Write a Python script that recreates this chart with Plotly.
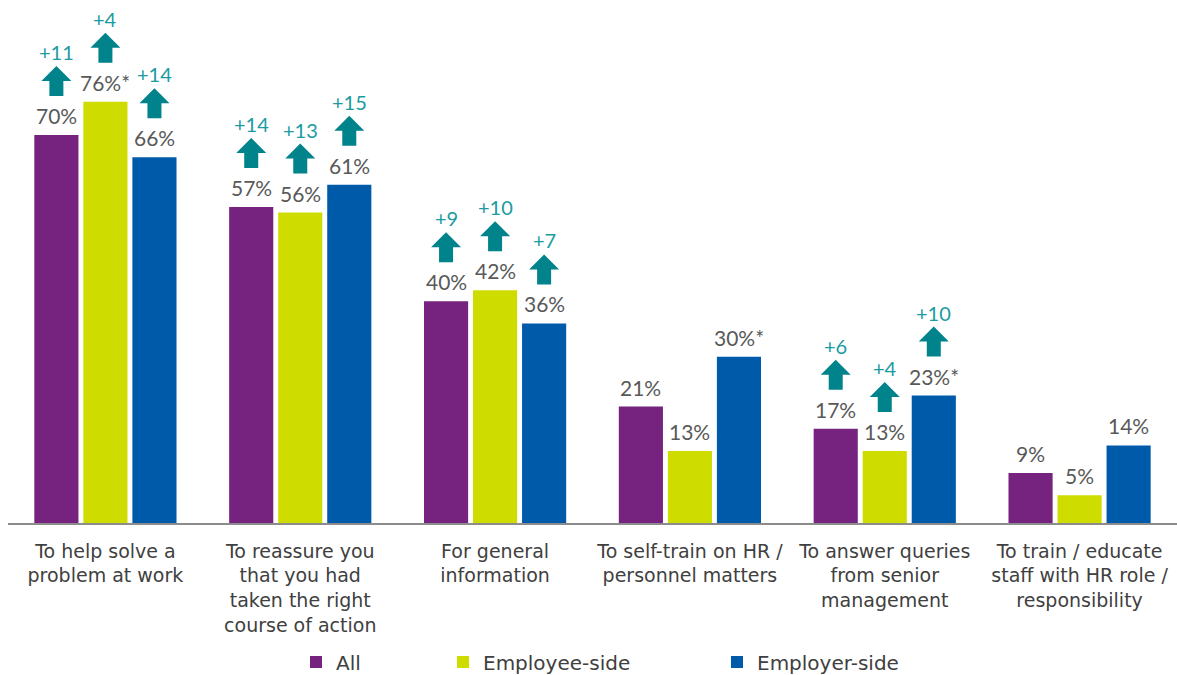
import plotly.graph_objects as go

# Survey results: reasons for using the service, by respondent type (%)
categories = [
    "To help solve a<br>problem at work",
    "To reassure you<br>that you had<br>taken the right<br>course of action",
    "For general<br>information",
    "To self-train on HR /<br>personnel matters",
    "To answer queries<br>from senior<br>management",
    "To train / educate<br>staff with HR role /<br>responsibility",
]
series_names = ["All", "Employee-side", "Employer-side"]
all_vals = [70, 57, 40, 21, 17, 9]
employee_vals = [76, 56, 42, 13, 13, 5]
employer_vals = [66, 61, 36, 30, 23, 14]

# Change in percentage points since the previous wave (None = no significant rise)
all_change = [11, 14, 9, None, 6, None]
employee_change = [4, 13, 10, None, 4, None]
employer_change = [14, 15, 7, None, 10, None]

# Significant difference from other groups
all_sig = [False, False, False, False, False, False]
employee_sig = [True, False, False, False, False, False]
employer_sig = [False, False, False, True, True, False]

colors = ["#76237F", "#CFDC00", "#005AAA"]
ARROW = "#00838B"
CHANGE_TEXT = "#1A9BA1"
LABEL = "#595959"
TEXT_FONT = "DejaVu Sans, sans-serif"
NUM_FONT = "Lato, sans-serif"

values = [all_vals, employee_vals, employer_vals]
changes = [all_change, employee_change, employer_change]
sigs = [all_sig, employee_sig, employer_sig]

BARGAP = 0.245
GROUPGAP = 0.1
slot = (1 - BARGAP) / 3
xs = list(range(len(categories)))

fig = go.Figure()
for k, name in enumerate(series_names):
    fig.add_trace(go.Bar(
        x=xs, y=values[k], name=name,
        marker=dict(color=colors[k], line=dict(width=0)),
        legend="legend" if k == 0 else f"legend{k + 1}",
    ))

annotations = []
shapes = []
# arrow outline in pixels relative to its anchor (positive = upward)
arrow_path = "M -7,39 L 7,39 L 7,54 L 15,54 L 0,69 L -15,54 L -7,54 Z"
for k in range(3):
    for i in xs:
        xc = i + (k - 1) * slot
        v = values[k][i]
        annotations.append(dict(
            x=xc, y=v, xref="x", yref="y",
            text=f"{v}%" + ("*" if sigs[k][i] else ""),
            showarrow=False, yanchor="bottom", yshift=5,
            font=dict(family=NUM_FONT, size=21, color=LABEL),
        ))
        c = changes[k][i]
        if c is not None:
            shapes.append(dict(
                type="path", xref="x", yref="y",
                xsizemode="pixel", ysizemode="pixel",
                xanchor=xc, yanchor=v, path=arrow_path,
                fillcolor=ARROW, line=dict(width=0),
            ))
            annotations.append(dict(
                x=xc, y=v, xref="x", yref="y",
                text=f"+{c}", showarrow=False, yanchor="bottom", yshift=69,
                font=dict(family=NUM_FONT, size=20, color=CHANGE_TEXT),
            ))

legend_common = dict(
    orientation="h", yanchor="middle", y=-0.266, xanchor="left",
    font=dict(family=TEXT_FONT, size=20, color="#404040"),
    bgcolor="rgba(0,0,0,0)", itemwidth=30,
)

fig.update_layout(
    width=1177, height=675,
    margin=dict(l=8, r=0, t=0, b=152, autoexpand=False),
    paper_bgcolor="white", plot_bgcolor="white",
    barmode="group", bargap=BARGAP, bargroupgap=GROUPGAP,
    xaxis=dict(
        tickvals=xs, ticktext=categories, range=[-0.5, 5.5],
        showgrid=False, zeroline=False, showline=True,
        linecolor="#8C8C8C", linewidth=1.5, ticks="",
        tickfont=dict(family=TEXT_FONT, size=19, color="#404040"),
        ticklabelstandoff=10, automargin=False,
    ),
    yaxis=dict(range=[0, 94.35], visible=False),
    showlegend=True,
    legend=dict(**legend_common, x=(296 - 8) / 1169),
    legend2=dict(**legend_common, x=(443 - 8) / 1169),
    legend3=dict(**legend_common, x=(717 - 8) / 1169),
    annotations=annotations,
    shapes=shapes,
)

fig.write_html("out.html")
